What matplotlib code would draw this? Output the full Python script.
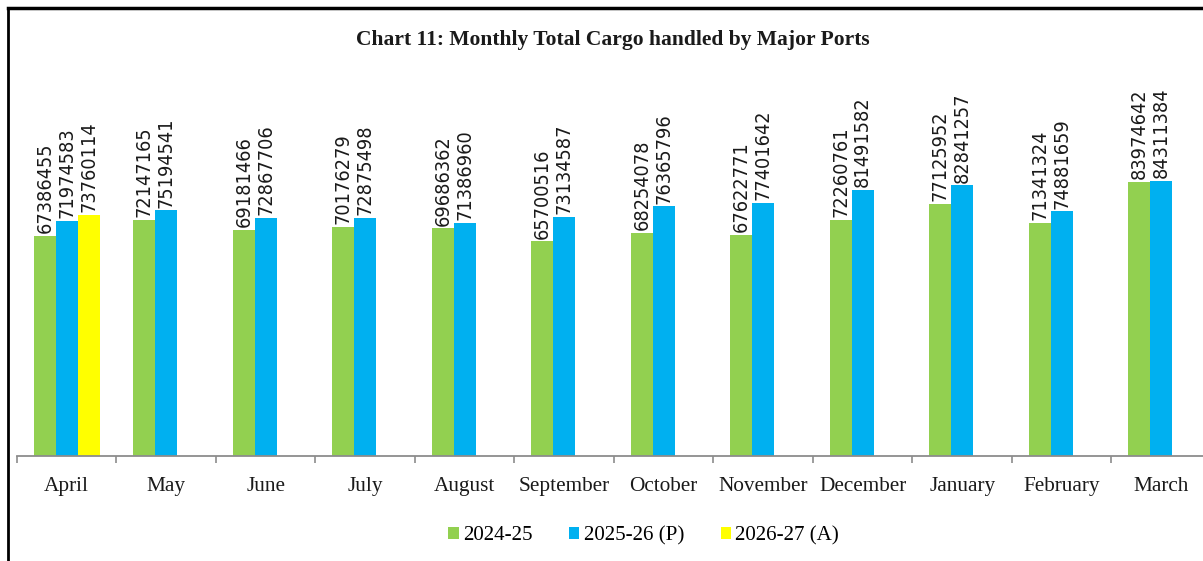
import matplotlib.pyplot as plt
import numpy as np
from matplotlib.lines import Line2D

# Monthly total cargo handled by major ports (tonnes)
months = ["April", "May", "June", "July", "August", "September", "October",
          "November", "December", "January", "February", "March"]
fy2425 = [67386455, 72147165, 69181466, 70176279, 69686362, 65700516,
          68254078, 67622771, 72260761, 77125952, 71341324, 83974642]
fy2526 = [71974583, 75194541, 72867706, 72875498, 71386960, 73134587,
          76365796, 77401642, 81491582, 82841257, 74881659, 84311384]
fy2627 = [73760114]
series_names = ["2024-25", "2025-26 (P)", "2026-27 (A)"]

green = "#92D050"
blue = "#00B0F0"
yellow = "#FFFF00"

serif = ["Liberation Serif", "DejaVu Serif"]

fig = plt.figure(figsize=[12.03, 5.61], dpi=100)
ax = fig.add_axes([0.0141, 0.1872, 0.9925, 0.5824])

x = np.arange(len(months))
w = 0.22
b1 = ax.bar(x - w, fy2425, w, color=green, label=series_names[0])
b2 = ax.bar(x, fy2526, w, color=blue, label=series_names[1])
b3 = ax.bar(x[:len(fy2627)] + w, fy2627, w, color=yellow, label=series_names[2])

# value labels, rotated above each bar
for bars in (b1, b2, b3):
    for r in bars:
        ax.annotate(str(int(r.get_height())),
                    (r.get_x() + r.get_width() / 2, r.get_height()),
                    xytext=(0, 2), textcoords="offset points",
                    ha="center", va="bottom", rotation=90,
                    fontsize=14.2, family="DejaVu Sans", fontstretch="condensed",
                    color="#1a1a1a")

ax.set_xlim(-0.5, len(months) - 0.5)
ax.set_ylim(0, 100000000)
ax.set_yticks([])
for s in ["top", "right", "left"]:
    ax.spines[s].set_visible(False)
ax.spines["bottom"].set_color("#8c8c8c")
ax.spines["bottom"].set_linewidth(1.3)

ax.set_xticks(x)
ax.set_xticklabels(months, family=serif, fontsize=15.3, color="#1a1a1a")
ax.tick_params(axis="x", which="major", length=0, pad=15)
ax.set_xticks(np.arange(len(months) + 1) - 0.5, minor=True)
ax.tick_params(axis="x", which="minor", length=5, width=1.2, color="#8c8c8c")

fig.text(0.509, 0.929, "Chart 11: Monthly Total Cargo handled by Major Ports",
         ha="center", va="center", fontsize=15.5, fontweight="bold",
         family=serif, color="#1a1a1a")

leg = fig.legend(handles=[b1, b2, b3], labels=series_names, loc="center",
                 bbox_to_anchor=(0.535, 0.045), ncol=3, frameon=False,
                 prop={"family": serif, "size": 15.1}, handlelength=0.5,
                 handleheight=0.5, handletextpad=0.2, columnspacing=1.75)

# chart border (top and left visible in the crop)
fig.add_artist(Line2D([0.0066, 1.0], [0.985, 0.985], color="black", lw=2.5,
                      transform=fig.transFigure))
fig.add_artist(Line2D([0.0066, 0.0066], [0.0, 0.985], color="black", lw=2.0,
                      transform=fig.transFigure))

plt.savefig("out.png", dpi=100)
